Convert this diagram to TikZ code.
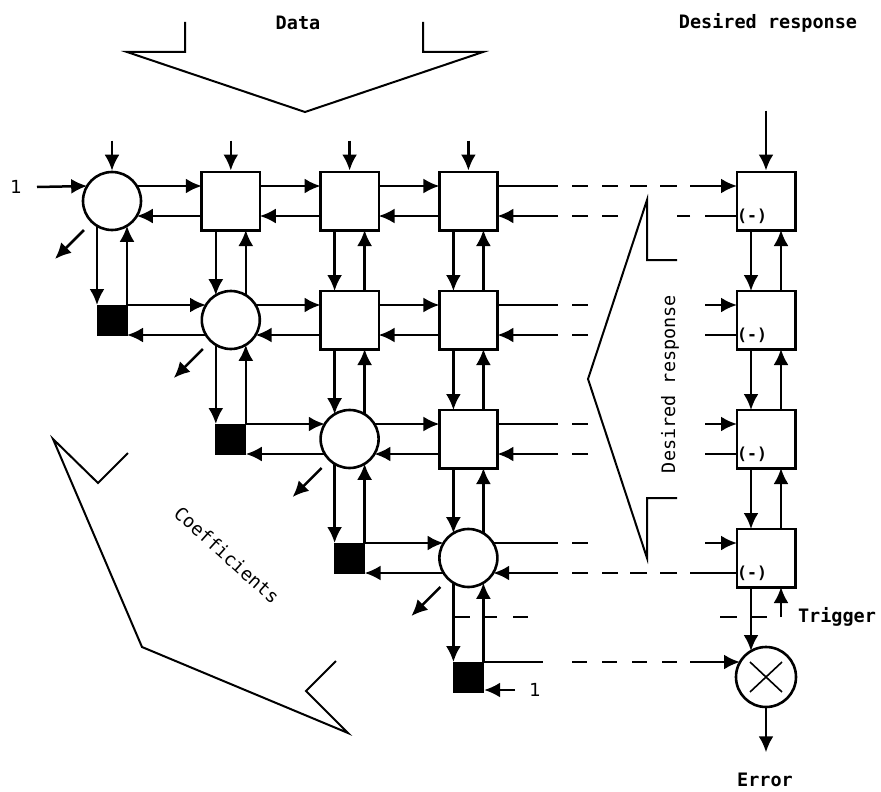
\documentclass[tikz,border=0pt]{standalone}
\usepackage{fontspec}
\newfontfamily\labfont{DejaVu Sans Mono}
\newfontfamily\numfont{DejaVu Sans}
\usetikzlibrary{arrows.meta,calc}

\newcommand\mkports[2]{%
  \coordinate (#1-eu) at ($(#1.center)+(#2,-15)$);
  \coordinate (#1-el) at ($(#1.center)+(#2,15)$);
  \coordinate (#1-wu) at ($(#1.center)+(-#2,-15)$);
  \coordinate (#1-wl) at ($(#1.center)+(-#2,15)$);
  \coordinate (#1-nl) at ($(#1.center)+(-15,-#2)$);
  \coordinate (#1-nr) at ($(#1.center)+(15,-#2)$);
  \coordinate (#1-sl) at ($(#1.center)+(-15,#2)$);
  \coordinate (#1-sr) at ($(#1.center)+(15,#2)$);
}

\tikzset{
  conn/.style={line width=2.5pt, -{Latex[length=16pt,width=15pt]}},
  plain/.style={line width=2.5pt},
  boxnode/.style={draw, line width=2.6pt, minimum size=58.4pt, inner sep=0pt},
  cnode/.style={circle, draw, line width=2.6pt, minimum size=58pt, inner sep=0pt},
  knode/.style={fill=black, minimum size=31pt, inner sep=0pt},
  outline/.style={line width=2pt, line join=miter},
  lbl/.style={font=\labfont\bfseries\fontsize{18.5}{20}\selectfont, inner sep=0pt},
  rotlbl/.style={font=\labfont\fontsize{18.5}{20}\selectfont, inner sep=0pt},
  minus/.style={font=\labfont\bfseries\fontsize{16.5}{18}\selectfont, inner sep=0pt, anchor=west},
  numlbl/.style={font=\numfont\fontsize{18}{20}\selectfont, inner sep=0pt},
}

\begin{document}
\begin{tikzpicture}[x=1pt,y=-1pt]
\useasboundingbox (0,0) rectangle (881,792);

% grid nodes
\node[cnode]   (c00) at (112,201) {};
\node[boxnode] (b10) at (230.8,201) {};
\node[boxnode] (b20) at (349.6,201) {};
\node[boxnode] (b30) at (468.4,201) {};
\node[knode]   (k01) at (112,320) {};
\node[cnode]   (c11) at (230.8,320) {};
\node[boxnode] (b21) at (349.6,320) {};
\node[boxnode] (b31) at (468.4,320) {};
\node[knode]   (k12) at (230.8,439) {};
\node[cnode]   (c22) at (349.6,439) {};
\node[boxnode] (b32) at (468.4,439) {};
\node[knode]   (k23) at (349.6,558) {};
\node[cnode]   (c33) at (468.4,558) {};
\node[knode]   (k34) at (468.4,677) {};
% right column
\node[boxnode] (r0) at (766,201) {};
\node[boxnode] (r1) at (766,320) {};
\node[boxnode] (r2) at (766,439) {};
\node[boxnode] (r3) at (766,558) {};
\node[cnode, minimum size=60pt] (mx) at (766,677) {};

\foreach \n in {c00,c11,c22,c33}{\mkports{\n}{24.8}}
\foreach \n in {b10,b20,b30,b21,b31,b32,r0,r1,r2,r3}{\mkports{\n}{29}}
\foreach \n in {k01,k12,k23,k34}{\mkports{\n}{15}}
\mkports{mx}{26}

% horizontal pairs
\foreach \a/\b in {c00/b10,b10/b20,b20/b30,k01/c11,c11/b21,b21/b31,k12/c22,c22/b32,k23/c33}{
  \draw[conn] (\a-eu) -- (\b-wu);
  \draw[conn] (\b-wl) -- (\a-el);
}
% vertical pairs
\foreach \a/\b in {c00/k01,b10/c11,c11/k12,b20/b21,b21/c22,c22/k23,b30/b31,b31/b32,b32/c33,c33/k34,r0/r1,r1/r2,r2/r3}{
  \draw[conn] (\a-sl) -- (\b-nl);
  \draw[conn] (\b-nr) -- (\a-sr);
}
% top inputs
\foreach \n in {c00,b10,b20,b30}{
  \draw[conn] ($(\n.north)+(0,-30)$) -- (\n.north);
}
\draw[conn] ($(r0.north)+(0,-60)$) -- (r0.north);
% diagonal outputs
\foreach \n in {c00,c11,c22,c33}{
  \draw[conn] ($(\n.center)+(-28,29)$) -- ($(\n.center)+(-57,58)$);
}
% input 1
\node[numlbl] (one1) at (16,187) {1};
\draw[conn] ($(one1.center)+(21,0)$) -- (c00-wu);
\node[numlbl] (one2) at (535,690) {1};
\draw[conn] ($(one2.center)+(-20,0)$) -- ($(k34.east)+(0,13)$);

% dashed links to right column
\draw[conn, dash pattern=on 60.6pt off 14pt on 16pt off 14pt on 16pt off 12pt on 17pt off 13pt on 17pt off 13pt on 100pt] (b30-eu) -- (r0-wu);
\draw[conn, dash pattern=on 32pt off 15pt on 13pt off 59pt on 16pt off 14pt on 16pt off 14pt on 100pt] (r0-wl) -- (b30-el);
\foreach \a/\b in {b31/r1,b32/r2}{
  \draw[conn, dash pattern=on 60.6pt off 14pt on 16pt off 117pt on 100pt] (\a-eu) -- (\b-wu);
  \draw[conn, dash pattern=on 32pt off 117pt on 16pt off 14pt on 100pt] (\b-wl) -- (\a-el);
}
\draw[conn, dash pattern=on 64.8pt off 14pt on 16pt off 117pt on 100pt] (c33-eu) -- (r3-wu);
\draw[conn, dash pattern=on 47pt off 13pt on 17pt off 13pt on 17pt off 12pt on 16pt off 14pt on 16pt off 14pt on 100pt] (r3-wl) -- (c33-el);
\draw[conn, dash pattern=on 59.6pt off 29pt on 15pt off 15pt on 15pt off 15pt on 15pt off 15pt on 15pt off 13pt on 100pt] (k34-eu) -- (mx-wu);

% (-) labels
\foreach \r in {r0,r1,r2,r3}{
  \node[minus] at ($(\r.west)+(1.5,15)$) {(-)};
}

% trigger
\coordinate (trigL) at (455,617);
\coordinate (trigR) at (767,617);
\draw[plain, dash pattern=on 15pt off 12pt on 15pt off 16pt on 15pt off 192pt on 17pt off 13pt on 17pt] (trigL) -- (trigR);
\coordinate (trig) at ($(r3-sr)+(0,30)$);
\draw[conn] (trig) -- (r3-sr);
\node[lbl] (trigtxt) at (837,617) {Trigger};

% multiplier
\draw[conn] (r3-sl) -- (mx-nl);
\draw[line width=1.6pt] ($(mx.center)+(-16,-15)$) -- ($(mx.center)+(16,15)$);
\draw[line width=1.6pt] ($(mx.center)+(-16,15)$) -- ($(mx.center)+(16,-15)$);
\coordinate (errEnd) at ($(mx.south)+(0,44)$);
\draw[conn] (mx.south) -- (errEnd);
\node[lbl] (errtxt) at (765,780) {Error};

% big outline arrows
\draw[outline] (185,22) -- (185,52) -- (127,52) -- (305,112) -- (483,52) -- (423,52) -- (423,22);
\node[lbl] (datatxt) at (298,23) {Data};
\node[lbl] (desttxt) at (768,23) {Desired response};

\draw[outline] (677,260) -- (647,260) -- (647,200) -- (588,379) -- (647,558) -- (647,498) -- (677,498);
\node[rotlbl, rotate=90] (destrot) at (670,384) {Desired response};

\draw[outline] (128,453) -- (98,483) -- (53,439) -- (142,647) -- (348,733) -- (306,691) -- (336,661);
\node[rotlbl, rotate=-42] (coeftxt) at (227,555) {Coefficients};

\end{tikzpicture}
\end{document}
